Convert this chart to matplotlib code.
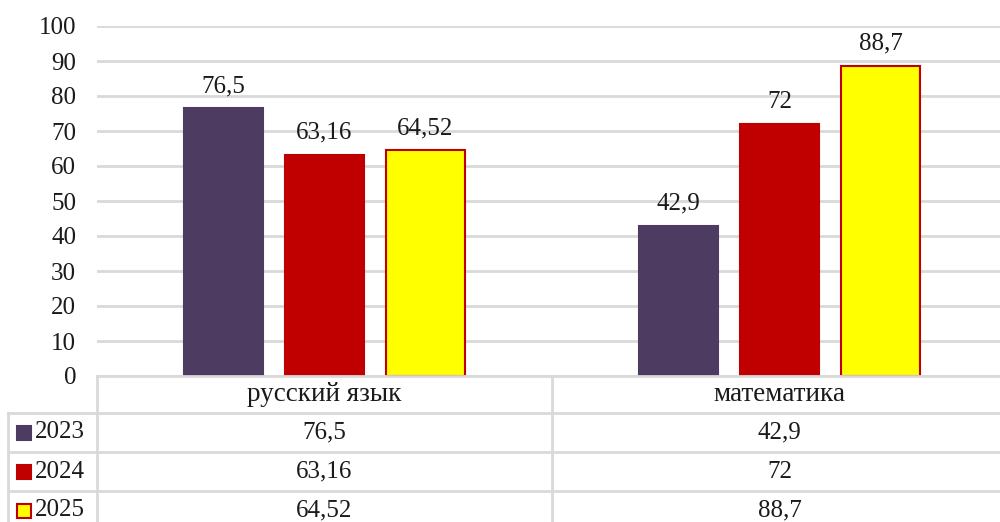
import matplotlib
matplotlib.use("Agg")
import matplotlib.pyplot as plt
from matplotlib.patches import Rectangle
import numpy as np

categories = ["русский язык", "математика"]
series_names = ["2023", "2024", "2025"]
values_2023 = [76.5, 42.9]
values_2024 = [63.16, 72]
values_2025 = [64.52, 88.7]
value_labels_2023 = ["76,5", "42,9"]
value_labels_2024 = ["63,16", "72"]
value_labels_2025 = ["64,52", "88,7"]
yticks = [0, 10, 20, 30, 40, 50, 60, 70, 80, 90, 100]

series = [values_2023, values_2024, values_2025]
labels = [value_labels_2023, value_labels_2024, value_labels_2025]
face_colors = ["#4e3b62", "#c00000", "#ffff00"]
edge_colors = ["#4e3b62", "#c00000", "#c00000"]

plt.rcParams['font.family'] = ['Liberation Serif', 'DejaVu Serif']
FS = 18
FS_CAT = 19.5
GRID = "#d9d9d9"
TXT = "#1a1a1a"

W, H = 1000, 522
fig = plt.figure(figsize=(W / 100, H / 100), dpi=100)

# main axes in pixel geometry
left_px, right_px, top_px, bottom_px = 97, 1007, 26, 376
ax = fig.add_axes([left_px / W, 1 - bottom_px / H, (right_px - left_px) / W, (bottom_px - top_px) / H])
ax.set_xlim(-0.5, len(categories) - 0.5)
ax.set_ylim(0, 100)
ax.set_yticks(yticks)
ax.set_yticklabels([str(t) for t in yticks], fontsize=FS, color=TXT)
ax.tick_params(axis='y', length=0, pad=15)
ax.set_xticks([])
for s in ax.spines.values():
    s.set_visible(False)
ax.yaxis.grid(True, color=GRID, linewidth=2)
ax.set_axisbelow(False)

x = np.arange(len(categories))
bw = 0.172
off = 0.222
for i, (vals, labs) in enumerate(zip(series, labels)):
    xs = x + (i - 1) * off
    ax.bar(xs, vals, width=bw, color=face_colors[i], edgecolor=edge_colors[i],
           linewidth=1.5, zorder=3)
    for xx, v, lab in zip(xs, vals, labs):
        ax.annotate(lab, (xx, v), xytext=(0, 8), textcoords='offset points',
                    ha='center', va='bottom', fontsize=FS, color=TXT, zorder=4)

# overlay axes for the data table (pixel coords)
tax = fig.add_axes([0, 0, 1, 1])
tax.set_xlim(0, W)
tax.set_ylim(H, 0)
tax.axis('off')

row_y = [376, 413, 452, 491, 530]
col_x = [8, 97, 552, 1007]
lw = 2
tax.plot([97, W], [376, 376], color=GRID, lw=lw)
for yy in row_y[1:]:
    tax.plot([8, W], [yy, yy], color=GRID, lw=lw)
tax.plot([97, 97], [376, H], color=GRID, lw=lw)
tax.plot([552, 552], [376, H], color=GRID, lw=lw)
tax.plot([8, 8], [413, H], color=GRID, lw=lw)

for j, cat in enumerate(categories):
    cx = (col_x[j + 1] + col_x[j + 2]) / 2
    tax.text(cx, (row_y[0] + row_y[1]) / 2, cat, ha='center', va='center', fontsize=FS_CAT, color=TXT)

for i, name in enumerate(series_names):
    cy = (row_y[i + 1] + row_y[i + 2]) / 2
    tax.add_patch(Rectangle((17, cy - 7), 14, 14, facecolor=face_colors[i],
                            edgecolor=edge_colors[i], linewidth=1.5))
    tax.text(35, cy, name, ha='left', va='center', fontsize=FS, color=TXT)
    for j in range(len(categories)):
        cx = (col_x[j + 1] + col_x[j + 2]) / 2
        tax.text(cx, cy, labels[i][j], ha='center', va='center', fontsize=FS, color=TXT)

fig.savefig("out.png", dpi=100)
